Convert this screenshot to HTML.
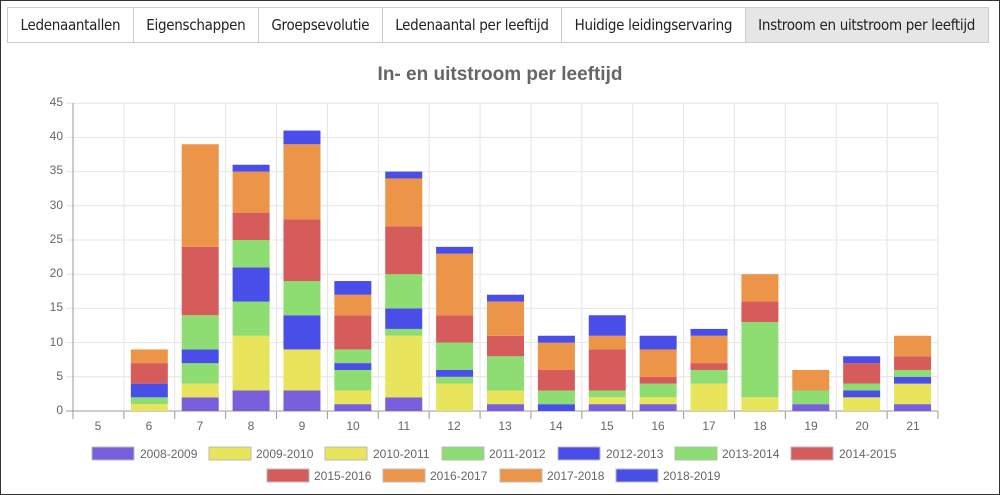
<!DOCTYPE html>
<html><head><meta charset="utf-8">
<style>
body{margin:0;background:#fff;font-family:"Liberation Sans",sans-serif;}
.frame{position:absolute;left:0;top:0;width:998px;height:493px;border:1px solid #333;}
.tabs{position:absolute;left:7px;top:7px;height:34px;display:flex;border:1px solid #ccc;}
.tab{height:34px;line-height:34px;padding:0 12.5px;font-size:15px;color:#222;border-right:1px solid #ccc;background:#fff;white-space:nowrap;font-family:"DejaVu Sans Condensed","Liberation Sans Narrow","Liberation Sans",sans-serif;letter-spacing:-0.3px}
.tab:last-child{border-right:none;background:#e6e6e6}
svg{position:absolute;left:0;top:0}
</style></head><body>
<div class="frame"></div>
<div class="tabs">
<div class="tab">Ledenaantallen</div><div class="tab">Eigenschappen</div><div class="tab">Groepsevolutie</div><div class="tab">Ledenaantal per leeftijd</div><div class="tab">Huidige leidingservaring</div><div class="tab">Instroom en uitstroom per leeftijd</div>
</div>
<svg width="1000" height="495" id="s" font-family="Liberation Sans, sans-serif">
<text x="500" y="80" text-anchor="middle" font-size="19" font-weight="bold" fill="#666">In- en uitstroom per leeftijd</text>
<g id="grid"></g><g id="bars"></g>
<g font-size="12" fill="#666" text-anchor="end">
<text x="63" y="414">0</text><text x="63" y="380">5</text><text x="63" y="346">10</text><text x="63" y="311">15</text><text x="63" y="277">20</text><text x="63" y="243">25</text><text x="63" y="209">30</text><text x="63" y="174">35</text><text x="63" y="140">40</text><text x="63" y="106">45</text>
</g>
<g font-size="12" fill="#666" text-anchor="middle" id="xl">
<text x="98" y="430">5</text><text x="149" y="430">6</text><text x="200" y="430">7</text><text x="251" y="430">8</text><text x="302" y="430">9</text><text x="353" y="430">10</text><text x="404" y="430">11</text><text x="454" y="430">12</text><text x="505" y="430">13</text><text x="556" y="430">14</text><text x="607" y="430">15</text><text x="658" y="430">16</text><text x="709" y="430">17</text><text x="760" y="430">18</text><text x="811" y="430">19</text><text x="862" y="430">20</text><text x="913" y="430">21</text>
</g>
<g font-size="12" fill="#666" id="leg">
<text x="140" y="458">2008-2009</text><text x="256" y="458">2009-2010</text><text x="373" y="458">2010-2011</text><text x="489" y="458">2011-2012</text><text x="606" y="458">2012-2013</text><text x="722" y="458">2013-2014</text><text x="839" y="458">2014-2015</text>
<text x="314" y="480">2015-2016</text><text x="430" y="480">2016-2017</text><text x="547" y="480">2017-2018</text><text x="663" y="480">2018-2019</text>
</g>
</svg>
<script>
var g=document.getElementById('grid'),b=document.getElementById('bars'),l=document.getElementById('leg'),NS='http://www.w3.org/2000/svg';
function r(p,a){var e=document.createElementNS(NS,a.t||'rect');delete a.t;for(var k in a)e.setAttribute(k,a[k]);p.appendChild(e);}
var x0=73,x1=938,cw=(x1-x0)/17,y0=411,py=6.84;
for(var i=0;i<=9;i++){var y=y0-i*5*py;r(g,{t:'line',x1:x0-7,x2:x1,y1:y,y2:y,stroke:i?'#e4e4e4':'#999'});}
for(var i=0;i<=17;i++){var x=x0+i*cw;r(g,{t:'line',x1:x,x2:x,y1:103,y2:i==0?y0:y0,stroke:i?'#e4e4e4':'#999'});r(g,{t:'line',x1:x,x2:x,y1:y0,y2:419,stroke:'#999'});}
var C={p:'#7a5fdc',y:'#e8e45c',g:'#8ddd72',b:'#4a4ee8',r:'#d65c5c',o:'#ec9549'};
var D={6:'y1g2b4r7o9',7:'p2y4g7b9g14r24o39',8:'p3y11g16b21g25r29o35b36',9:'p3y9b14g19r28o39b41',10:'p1y3g6b7g9r14o17b19',11:'p2y11g12b15g20r27o34b35',12:'y4g5b6g10r14o23b24',13:'p1y3g8r11o16b17',14:'b1g3r6o10b11',15:'p1y2g3r9o11b14',16:'p1y2g4r5o9b11',17:'y4g6r7o11b12',18:'y2g13r16o20',19:'p1g3o6',20:'y2b3g4r7b8',21:'p1y4b5g6r8o11'};
for(var a in D){var cx=x0+(a-5+0.5)*cw,prev=0,m=D[a].match(/[a-z]\d+/g);m.forEach(function(s){var c=s[0],v=+s.slice(1);r(b,{x:cx-18.5,width:37,y:y0-v*py,height:(v-prev)*py,fill:C[c]});prev=v;});}
var L=[[92,'p'],[209,'y'],[325,'y'],[442,'g'],[558,'b'],[675,'g'],[791,'r'],[267,'r'],[383,'o'],[500,'o'],[616,'b']];
L.forEach(function(q,i){r(l,{x:q[0],y:i<7?447:469,width:42,height:13,fill:C[q[1]],stroke:'#bbb','stroke-width':1});});
</script>
</body></html>
